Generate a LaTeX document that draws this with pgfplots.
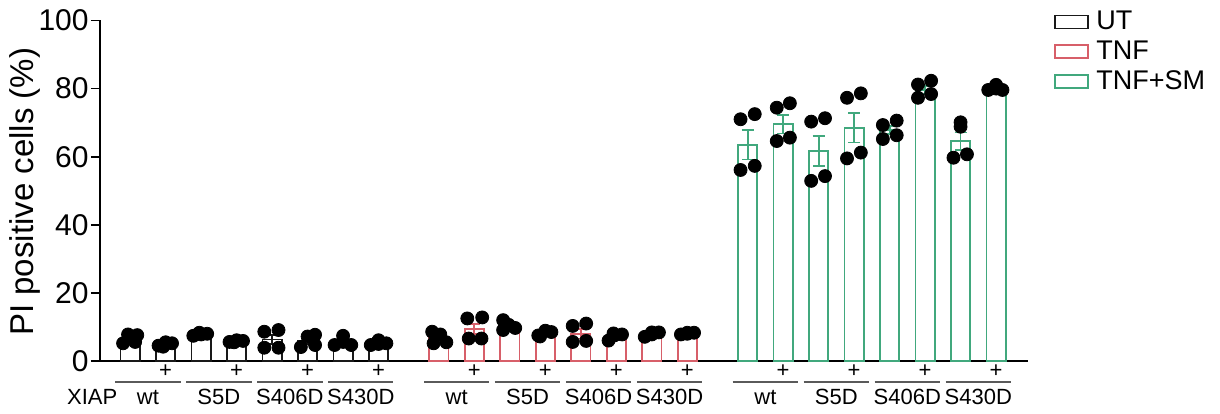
\documentclass[border=0pt]{standalone}
\usepackage{fontspec}
\setmainfont{Liberation Sans}
\usepackage{pgfplots}
\pgfplotsset{compat=1.18}
\usepackage{pgfplotstable}
\definecolor{utc}{RGB}{25,25,25}
\definecolor{tnfc}{RGB}{215,95,105}
\definecolor{smc}{RGB}{65,168,125}
\definecolor{linec}{RGB}{90,90,90}

\pgfplotstableread{
x y e
0 6.4 0.7
1 4.9 0.3
2 7.8 0.2
3 5.7 0.2
4 6.3 1.4
5 5.8 0.9
6 5.6 0.8
7 5.2 0.3
}\ut
\pgfplotstableread{
x y e
8.7 6.8 0.8
9.7 9.4 1.5
10.7 10.4 0.6
11.7 8.0 0.4
12.7 8.0 1.4
13.7 7.3 0.5
14.7 7.9 0.3
15.7 8.1 0.2
}\tnf
\pgfplotstableread{
x y e
17.4 63.5 4.3
18.4 69.5 2.7
19.4 61.7 4.4
20.4 68.5 4.3
21.4 67.8 1.2
22.4 79.6 1.2
23.4 64.5 2.6
24.4 80.0 0.5
}\sm
\pgfplotstableread{
x y
-0.2 5.2
-0.06 7.8
0.14 5.6
0.2 7.6
0.8 4.5
1.0 5.5
1.18 5.2
0.93 4.2
1.78 7.4
1.95 8.3
2.17 8.0
2.0 7.8
2.8 5.6
3.0 6.1
3.18 5.9
2.93 5.5
3.78 8.6
4.18 9.1
3.78 3.9
4.18 3.9
4.81 4.1
5.0 7.2
5.21 7.7
5.21 4.7
5.76 4.7
6.0 7.4
6.23 4.7
6.0 5.6
6.78 4.7
7.0 6.1
7.22 5.2
7.0 5.0
8.51 8.6
8.74 7.8
8.55 5.2
8.91 5.5
9.5 12.5
9.92 12.8
9.54 6.6
9.9 6.6
10.51 12.0
10.67 10.6
10.85 9.7
10.51 9.1
11.5 7.5
11.7 8.9
11.87 8.5
11.55 7.2
12.47 10.3
12.85 11.0
12.47 5.6
12.85 5.9
13.48 6.0
13.64 7.5
13.86 7.8
13.62 8.1
14.5 7.1
14.7 8.4
14.9 8.4
14.7 7.8
15.52 7.8
15.7 8.3
15.89 8.3
15.7 8.0
17.2 71.0
17.6 72.5
17.2 56.1
17.6 57.3
18.22 74.4
18.59 75.7
18.22 64.6
18.59 65.6
19.19 70.3
19.58 71.3
19.19 52.9
19.58 54.3
20.2 77.3
20.59 78.6
20.2 59.5
20.59 61.2
21.21 69.3
21.6 70.6
21.21 65.2
21.6 66.3
22.2 81.2
22.57 82.3
22.2 77.3
22.57 78.4
23.4 70.1
23.4 68.8
23.2 59.7
23.58 60.7
24.18 79.6
24.4 81.1
24.58 79.6
24.4 80.0
}\dots

\begin{document}
\begin{tikzpicture}
\useasboundingbox (-50pt,-26pt) rectangle (560pt,180.5pt);
\begin{axis}[
  scale only axis, width=464pt, height=170.25pt,
  xmin=-0.85, xmax=25.3, ymin=0, ymax=100,
  axis x line=bottom, axis y line=left,
  axis line style={-, line width=0.9pt},
  xtick=\empty, ytick={0,20,...,100},
  tick align=outside, major tick length=4.5pt,
  tick style={line width=0.9pt, black},
  yticklabel style={font=\fontsize{15}{17}\selectfont, inner sep=1pt},
  /pgf/number format/assume math mode=true,
  ylabel={PI positive cells (\%)},
  ylabel style={at={(axis description cs:-0.0808,0.497)}, anchor=center, font=\fontsize{16.5}{19}\selectfont},
  clip=false,
  bar width=0.54, bar shift=0pt,
  legend style={at={(rel axis cs:1.028,1.035)}, anchor=north west, draw=none, fill=none,
    font=\fontsize{13.5}{15}\selectfont, inner sep=0pt, row sep=1.6pt,
    nodes={inner sep=1.2pt}},
  legend cell align=left,
  legend image code/.code={\draw[#1, fill=white, line width=0.75pt] (0pt,-3.25pt) rectangle (16.5pt,3.25pt); \path (19pt,0pt);},
]
\addplot[ybar, draw=utc, fill=white, line width=0.9pt,
  error bars/.cd, y dir=both, y explicit,
  error bar style={line width=0.9pt, utc},
  error mark=-,
  error mark options={rotate=90, mark size=3pt, line width=0.9pt, utc}]
  table[x=x, y=y, y error=e] {\ut};
\addlegendentry{UT}
\addplot[ybar, draw=tnfc, fill=white, line width=0.9pt,
  error bars/.cd, y dir=both, y explicit,
  error bar style={line width=0.9pt, tnfc},
  error mark=-,
  error mark options={rotate=90, mark size=3pt, line width=0.9pt, tnfc}]
  table[x=x, y=y, y error=e] {\tnf};
\addlegendentry{TNF}
\addplot[ybar, draw=smc, fill=white, line width=0.9pt,
  error bars/.cd, y dir=both, y explicit,
  error bar style={line width=0.9pt, smc},
  error mark=-,
  error mark options={rotate=90, mark size=3pt, line width=0.9pt, smc}]
  table[x=x, y=y, y error=e] {\sm};
\addlegendentry{TNF+SM}
\addplot[only marks, mark=*, mark size=3.25pt, mark options={fill=black, draw=black}, forget plot]
  table[x=x, y=y] {\dots};

% group annotations
\begin{scope}[font=\fontsize{11}{13}\selectfont]
\draw[linec, line width=0.8pt] (axis cs:-0.42,-6.1) -- (axis cs:1.42,-6.1);
\draw[linec, line width=0.8pt] (axis cs:1.58,-6.1) -- (axis cs:3.42,-6.1);
\draw[linec, line width=0.8pt] (axis cs:3.58,-6.1) -- (axis cs:5.42,-6.1);
\draw[linec, line width=0.8pt] (axis cs:5.58,-6.1) -- (axis cs:7.42,-6.1);
\draw[linec, line width=0.8pt] (axis cs:8.28,-6.1) -- (axis cs:10.12,-6.1);
\draw[linec, line width=0.8pt] (axis cs:10.28,-6.1) -- (axis cs:12.12,-6.1);
\draw[linec, line width=0.8pt] (axis cs:12.28,-6.1) -- (axis cs:14.12,-6.1);
\draw[linec, line width=0.8pt] (axis cs:14.28,-6.1) -- (axis cs:16.12,-6.1);
\draw[linec, line width=0.8pt] (axis cs:16.98,-6.1) -- (axis cs:18.82,-6.1);
\draw[linec, line width=0.8pt] (axis cs:18.98,-6.1) -- (axis cs:20.82,-6.1);
\draw[linec, line width=0.8pt] (axis cs:20.98,-6.1) -- (axis cs:22.82,-6.1);
\draw[linec, line width=0.8pt] (axis cs:22.98,-6.1) -- (axis cs:24.82,-6.1);
\node at (axis cs:1,-2.9) {+};
\node at (axis cs:3,-2.9) {+};
\node at (axis cs:5,-2.9) {+};
\node at (axis cs:7,-2.9) {+};
\node at (axis cs:9.7,-2.9) {+};
\node at (axis cs:11.7,-2.9) {+};
\node at (axis cs:13.7,-2.9) {+};
\node at (axis cs:15.7,-2.9) {+};
\node at (axis cs:18.4,-2.9) {+};
\node at (axis cs:20.4,-2.9) {+};
\node at (axis cs:22.4,-2.9) {+};
\node at (axis cs:24.4,-2.9) {+};
\node[anchor=base] at (axis cs:-1.07,-12.9) {XIAP};
\node[anchor=base] at (axis cs:0.5,-12.9) {wt};
\node[anchor=base] at (axis cs:2.5,-12.9) {S5D};
\node[anchor=base] at (axis cs:4.5,-12.9) {S406D};
\node[anchor=base] at (axis cs:6.5,-12.9) {S430D};
\node[anchor=base] at (axis cs:9.2,-12.9) {wt};
\node[anchor=base] at (axis cs:11.2,-12.9) {S5D};
\node[anchor=base] at (axis cs:13.2,-12.9) {S406D};
\node[anchor=base] at (axis cs:15.2,-12.9) {S430D};
\node[anchor=base] at (axis cs:17.9,-12.9) {wt};
\node[anchor=base] at (axis cs:19.9,-12.9) {S5D};
\node[anchor=base] at (axis cs:21.9,-12.9) {S406D};
\node[anchor=base] at (axis cs:23.9,-12.9) {S430D};
\end{scope}
\end{axis}
\end{tikzpicture}
\end{document}
